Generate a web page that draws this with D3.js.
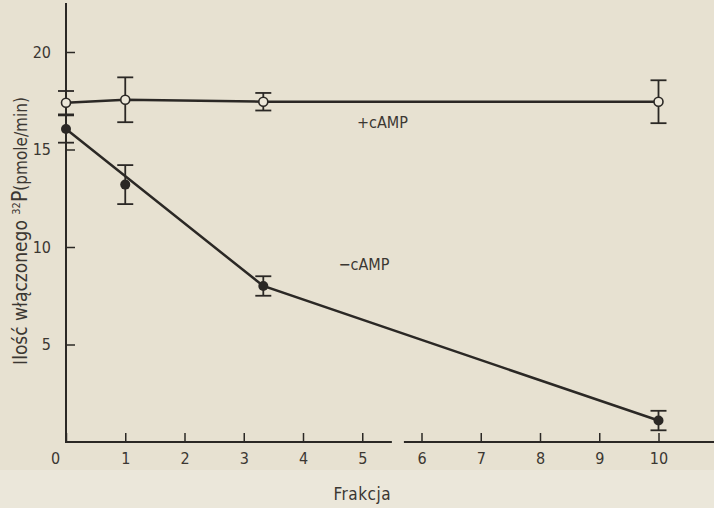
<!DOCTYPE html>
<html>
<head>
<meta charset="utf-8">
<script src="https://cdn.jsdelivr.net/npm/d3@7"></script>
<style>
  body { margin: 0; background: #e7e1d1; }
  svg { display: block; }
  text { font-family: "Liberation Sans Narrow", "DejaVu Sans Condensed", sans-serif; fill: #3b3732; }
</style>
</head>
<body>
<svg id="chart"></svg>
<script>
// data
var frakcja   = [0, 1, 3.33, 10];
var plusCAMP  = [17.4, 17.55, 17.45, 17.45];
var plusErr   = [0.6, 1.15, 0.45, 1.1];
var minusCAMP = [16.05, 13.2, 8.0, 1.1];
var minusErr  = [0.7, 1.0, 0.5, 0.5];
// straight line drawn by the author through the -cAMP points
var minusFitX = [0, 3.33, 10];
var minusFitY = [16.05, 8.0, 1.1];

var xTicks = [0, 1, 2, 3, 4, 5, 6, 7, 8, 9, 10];
var yTicks = [5, 10, 15, 20];
var axisBreak = [5.5, 5.72];

var W = 714, H = 508;

var svg = d3.select('#chart')
            .attr('width', W)
            .attr('height', H);

// slightly lighter paper below the plot
svg.append('rect')
   .attr('x', 0).attr('y', 470)
   .attr('width', W).attr('height', H - 470)
   .attr('fill', '#ebe7da');

var x = d3.scaleLinear().domain([0, 10]).range([66, 658.5]);
var y = d3.scaleLinear().domain([0, 20]).range([442, 52]);

var ink = '#2b2825';

// x axis with break
var xAxis = d3.axisBottom(x)
              .tickValues(xTicks)
              .tickSizeInner(-9)
              .tickSizeOuter(0)
              .tickPadding(11)
              .tickFormat(d3.format('d'));

var gx = svg.append('g')
            .attr('class', 'x axis')
            .attr('transform', 'translate(0,' + y(0) + ')')
            .call(xAxis);
gx.select('.domain').remove();
gx.selectAll('.tick line').attr('stroke', ink).attr('stroke-width', 1.5);
gx.selectAll('.tick text').style('font-size', '16px').attr('fill', '#3b3732');
gx.selectAll('.tick').filter(function(d){ return d === 0; })
  .select('text').attr('dx', -11);

var xEnd = x.invert(W);
[[0, axisBreak[0]], [axisBreak[1], xEnd]].forEach(function(seg){
    gx.append('line')
      .attr('x1', x(seg[0]) - 1)
      .attr('x2', x(seg[1]))
      .attr('stroke', ink)
      .attr('stroke-width', 2);
});

// y axis
var yAxis = d3.axisLeft(y)
              .tickValues(yTicks)
              .tickSizeInner(-9)
              .tickSizeOuter(0)
              .tickPadding(15);

var gy = svg.append('g')
            .attr('class', 'y axis')
            .attr('transform', 'translate(' + x(0) + ',0)')
            .call(yAxis);
gy.select('.domain').remove();
gy.selectAll('.tick line').attr('stroke', ink).attr('stroke-width', 1.5);
gy.selectAll('.tick text').style('font-size', '16px').attr('fill', '#3b3732');
gy.append('line')
  .attr('y1', y(0) + 1)
  .attr('y2', 3)
  .attr('stroke', ink)
  .attr('stroke-width', 2);

// axis titles
svg.append('text')
   .attr('x', x(5))
   .attr('y', 500)
   .attr('text-anchor', 'middle')
   .style('font-size', '17px')
   .style('letter-spacing', '0.5px')
   .text('Frakcja');

var yTitle = svg.append('text')
   .attr('transform', 'translate(27,' + 231 + ') rotate(-90)')
   .attr('text-anchor', 'middle')
   .style('font-size', '19px');
yTitle.append('tspan').text('Ilość włączonego ');
yTitle.append('tspan').attr('dy', -7).style('font-size', '11px').text('32');
yTitle.append('tspan').attr('dy', 7).style('font-size', '21px').text('P');
yTitle.append('tspan').style('font-size', '17px').text('(pmole/min)');

// lines
var line = d3.line()
             .x(function(d){ return x(d[0]); })
             .y(function(d){ return y(d[1]); });

svg.append('path')
   .datum(d3.zip(frakcja, plusCAMP))
   .attr('d', line)
   .attr('fill', 'none')
   .attr('stroke', ink)
   .attr('stroke-width', 2.5);

svg.append('path')
   .datum(d3.zip(minusFitX, minusFitY))
   .attr('d', line)
   .attr('fill', 'none')
   .attr('stroke', ink)
   .attr('stroke-width', 2.5);

// error bars
function errorBars(vals, errs) {
    var g = svg.append('g');
    var data = d3.zip(frakcja, vals, errs);
    g.selectAll('line.bar').data(data).enter().append('line')
     .attr('x1', function(d){ return x(d[0]); })
     .attr('x2', function(d){ return x(d[0]); })
     .attr('y1', function(d){ return y(d[1] - d[2]); })
     .attr('y2', function(d){ return y(d[1] + d[2]); })
     .attr('stroke', ink).attr('stroke-width', 1.8);
    [-1, 1].forEach(function(s){
        g.selectAll(null).data(data).enter().append('line')
         .attr('x1', function(d){ return x(d[0]) - 8; })
         .attr('x2', function(d){ return x(d[0]) + 8; })
         .attr('y1', function(d){ return y(d[1] + s * d[2]); })
         .attr('y2', function(d){ return y(d[1] + s * d[2]); })
         .attr('stroke', ink).attr('stroke-width', 1.8);
    });
}
errorBars(plusCAMP, plusErr);
errorBars(minusCAMP, minusErr);

// points
svg.selectAll('circle.open')
   .data(d3.zip(frakcja, plusCAMP))
   .enter().append('circle')
   .attr('class', 'open')
   .attr('cx', function(d){ return x(d[0]); })
   .attr('cy', function(d){ return y(d[1]); })
   .attr('r', 4.5)
   .attr('fill', '#ece7d9')
   .attr('stroke', ink)
   .attr('stroke-width', 1.6);

svg.selectAll('circle.filled')
   .data(d3.zip(frakcja, minusCAMP))
   .enter().append('circle')
   .attr('class', 'filled')
   .attr('cx', function(d){ return x(d[0]); })
   .attr('cy', function(d){ return y(d[1]); })
   .attr('r', 5)
   .attr('fill', ink);

// series labels
svg.append('text')
   .attr('x', x(4.91))
   .attr('y', y(16.1))
   .style('font-size', '16px')
   .text('+cAMP');

svg.append('text')
   .attr('x', x(4.6))
   .attr('y', y(8.8))
   .style('font-size', '16px')
   .text('\u2212cAMP');
</script>
</body>
</html>
